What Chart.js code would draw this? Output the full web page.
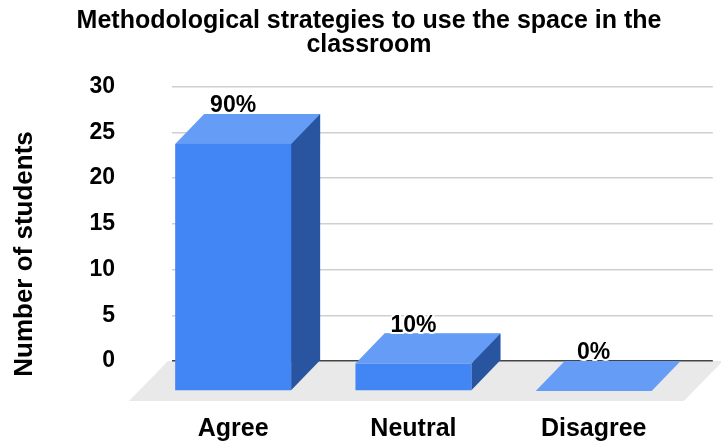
<!DOCTYPE html>
<html>
<head>
<meta charset="utf-8">
<script src="https://cdn.jsdelivr.net/npm/chart.js@4.4.1/dist/chart.umd.min.js"></script>
<style>
  html, body { margin: 0; padding: 0; background: #fff; }
  #wrap { width: 721px; height: 441px; }
</style>
</head>
<body>
<div id="wrap"><canvas id="myChart" width="721" height="441"></canvas></div>
<script>
// answers per option (out of totalStudents)
const categories = ['Agree', 'Neutral', 'Disagree'];
const students = [27, 3, 0];
const totalStudents = 30;
const yTicks = [0, 5, 10, 15, 20, 25, 30];

// percentage labels come straight from the counts
const pctLabels = students.map(v => Math.round(v / totalStudents * 100) + '%');

const FONT = "'Liberation Sans', Arial, sans-serif";
const FRONT = '#4285f4';
const TOP = '#659cf5';
const SIDE = '#2955a0';
const FLOOR = '#e9e9e9';
const DX = 29, DY = 30;          // bar depth
const FLOOR_DX = 39, FLOOR_DY = 40;

const bars3d = {
  id: 'bars3d',
  beforeDraw(chart) {
    // grey floor under the bars
    const ctx = chart.ctx;
    const ca = chart.chartArea;
    const y0 = chart.scales.y.getPixelForValue(0);
    ctx.save();
    ctx.fillStyle = FLOOR;
    ctx.beginPath();
    ctx.moveTo(ca.left - 4, y0);
    ctx.lineTo(ca.right + 10, y0);
    ctx.lineTo(ca.right + 10 - FLOOR_DX, y0 + FLOOR_DY);
    ctx.lineTo(ca.left - 4 - FLOOR_DX, y0 + FLOOR_DY);
    ctx.closePath();
    ctx.fill();

    // axis title, sits a little below the middle of the plot
    ctx.translate(25, 254);
    ctx.rotate(-Math.PI / 2);
    ctx.font = 'bold 26px ' + FONT;
    ctx.textAlign = 'center';
    ctx.textBaseline = 'middle';
    ctx.fillStyle = '#000';
    ctx.fillText('Number of students', 0, 0);
    ctx.restore();
  },
  afterDatasetsDraw(chart) {
    const ctx = chart.ctx;
    const meta = chart.getDatasetMeta(0);
    ctx.save();
    meta.data.forEach((bar, i) => {
      const p = bar.getProps(['x', 'y', 'base', 'width'], true);
      const x1 = p.x - p.width / 2, x2 = p.x + p.width / 2;
      const top = p.y, base = p.base;

      // right side
      ctx.fillStyle = SIDE;
      ctx.beginPath();
      ctx.moveTo(x2, top);
      ctx.lineTo(x2, base);
      ctx.lineTo(x2 - DX, base + DY);
      ctx.lineTo(x2 - DX, top + DY);
      ctx.closePath();
      ctx.fill();

      // top
      ctx.fillStyle = TOP;
      ctx.beginPath();
      ctx.moveTo(x1, top);
      ctx.lineTo(x2, top);
      ctx.lineTo(x2 - DX, top + DY);
      ctx.lineTo(x1 - DX, top + DY);
      ctx.closePath();
      ctx.fill();

      // front
      ctx.fillStyle = FRONT;
      ctx.fillRect(x1 - DX, top + DY, p.width, base - top);

      // value label with white halo
      ctx.font = 'bold 23px ' + FONT;
      ctx.textAlign = 'center';
      ctx.textBaseline = 'alphabetic';
      ctx.lineJoin = 'round';
      ctx.lineWidth = 4;
      ctx.strokeStyle = '#fff';
      ctx.strokeText(pctLabels[i], p.x - DX, top - 2);
      ctx.fillStyle = '#000';
      ctx.fillText(pctLabels[i], p.x - DX, top - 2);
    });
    ctx.restore();
  }
};

new Chart(document.getElementById('myChart'), {
  type: 'bar',
  data: {
    labels: categories,
    datasets: [{
      data: students,
      backgroundColor: FRONT,
      categoryPercentage: 1,
      barPercentage: 0.643
    }]
  },
  options: {
    responsive: false,
    animation: false,
    layout: { padding: { left: 20, right: 3, top: 0, bottom: 0 } },
    plugins: {
      legend: { display: false },
      tooltip: { enabled: false },
      title: {
        display: true,
        text: ['Methodological strategies to use the space in the', 'classroom'],
        color: '#000',
        font: { family: FONT, size: 25, weight: 'bold', lineHeight: 0.95 },
        padding: { top: 9, bottom: 30 }
      }
    },
    scales: {
      x: {
        grid: { display: false },
        border: { display: false },
        ticks: {
          color: '#000',
          font: { family: FONT, size: 25, weight: 'bold' },
          labelOffset: -DX,
          padding: 45
        },
        afterFit(scale) { scale.height = 80; }
      },
      y: {
        min: 0,
        max: 30,
        afterBuildTicks(scale) { scale.ticks = yTicks.map(v => ({ value: v })); },
        border: { display: false },
        grid: {
          drawTicks: false,
          lineWidth: 1.5,
          color: c => (c.tick && c.tick.value === 0 ? '#444' : '#cfcfcf')
        },
        ticks: {
          color: '#000',
          font: { family: FONT, size: 23, weight: 'bold' },
          padding: 57
        },
        afterFit(scale) { scale.width = 152; }
      }
    }
  },
  plugins: [bars3d]
});
</script>
</body>
</html>
